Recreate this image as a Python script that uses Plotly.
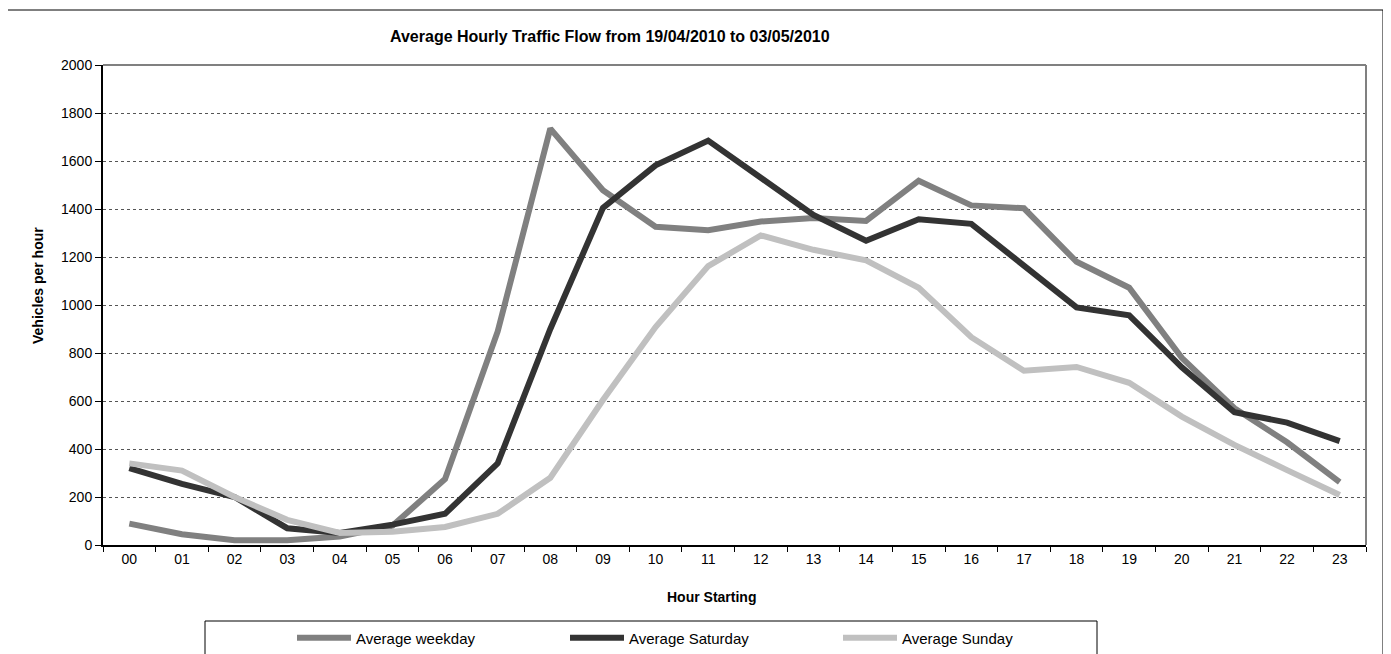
import plotly.graph_objects as go

# hourly averages
hours = ["00", "01", "02", "03", "04", "05", "06", "07", "08", "09", "10", "11",
         "12", "13", "14", "15", "16", "17", "18", "19", "20", "21", "22", "23"]

weekday = [89, 45, 20, 20, 35, 80, 275, 890, 1735, 1478, 1326, 1312,
           1348, 1362, 1350, 1518, 1415, 1403, 1180, 1072, 780, 570, 428, 262]

saturday = [320, 255, 200, 70, 50, 85, 130, 340, 900, 1405, 1582, 1685,
            1530, 1375, 1268, 1357, 1338, 1160, 990, 957, 740, 553, 510, 433]

sunday = [340, 310, 200, 105, 50, 55, 75, 130, 280, 604, 908, 1162,
          1290, 1230, 1186, 1072, 866, 726, 742, 676, 535, 417, 312, 208]

series = [("Average weekday", weekday, "#808080"),
          ("Average Saturday", saturday, "#333333"),
          ("Average Sunday", sunday, "#c0c0c0")]

font = "Liberation Sans, Arial, sans-serif"

fig = go.Figure()
for name, vals, col in series:
    fig.add_trace(go.Scatter(x=hours, y=vals, name=name, mode="lines",
                             line=dict(color=col, width=6)))

# page pixels -> paper coords (plot area 103..1366 x 65..545 on the page)
def px(x):
    return (x - 103) / 1263

def py(y):
    return (545 - y) / 480

shapes = [
    # outer chart frame (bottom runs off the page like the original)
    dict(type="rect", xref="paper", yref="paper", x0=px(7), x1=px(1383), y0=py(700), y1=py(10),
         line=dict(color="#000000", width=1)),
    # top and right of plot area
    dict(type="line", xref="paper", yref="paper", x0=0, x1=1, y0=1, y1=1,
         line=dict(color="#808080", width=2)),
    dict(type="line", xref="paper", yref="paper", x0=1, x1=1, y0=0, y1=1,
         line=dict(color="#808080", width=2)),
    # legend box
    dict(type="rect", xref="paper", yref="paper", x0=px(205), x1=px(1097), y0=py(700), y1=py(621),
         line=dict(color="#000000", width=1)),
]

annotations = [
    dict(text="<b>Average Hourly Traffic Flow from 19/04/2010 to 03/05/2010</b>",
         xref="paper", yref="paper", x=px(610), y=py(37), showarrow=False,
         xanchor="center", yanchor="middle",
         font=dict(size=16, color="black", family=font)),
    dict(text="<b>Vehicles per hour</b>", textangle=-90,
         xref="paper", yref="paper", x=px(38), y=py(286), showarrow=False,
         xanchor="center", yanchor="middle",
         font=dict(size=14, color="black", family=font)),
    dict(text="<b>Hour Starting</b>",
         xref="paper", yref="paper", x=px(711), y=py(597), showarrow=False,
         xanchor="center", yanchor="middle",
         font=dict(size=14, color="black", family=font)),
]

# the page body has an 8px margin; the figure is taller than the window so the
# legend fits without pushing margins, and the bottom is cut off as in the original
fig.update_layout(
    width=1383, height=720,
    margin=dict(l=95, r=25, t=57, b=720 - 537),
    paper_bgcolor="white", plot_bgcolor="white",
    font=dict(family=font, size=14, color="black"),
    shapes=shapes, annotations=annotations, showlegend=True,
    legend=dict(orientation="h", x=px(292), y=py(638), xanchor="left", yanchor="middle",
                entrywidth=204, entrywidthmode="pixels", itemwidth=54,
                bgcolor="rgba(0,0,0,0)", font=dict(size=15, family=font),
                itemclick=False),
    xaxis=dict(type="category", range=[-0.5, 23.5], showline=True, linecolor="black", linewidth=2,
               ticks="outside", tickson="boundaries", ticklen=5, tickcolor="black",
               showgrid=False, tickfont=dict(size=14)),
    yaxis=dict(range=[0, 2000], dtick=200, showline=True, linecolor="black", linewidth=2,
               ticks="outside", ticklen=6, tickcolor="black",
               gridcolor="#555555", griddash="dot", gridwidth=1,
               zeroline=False, tickfont=dict(size=14)),
)

fig.write_html("out.html")
